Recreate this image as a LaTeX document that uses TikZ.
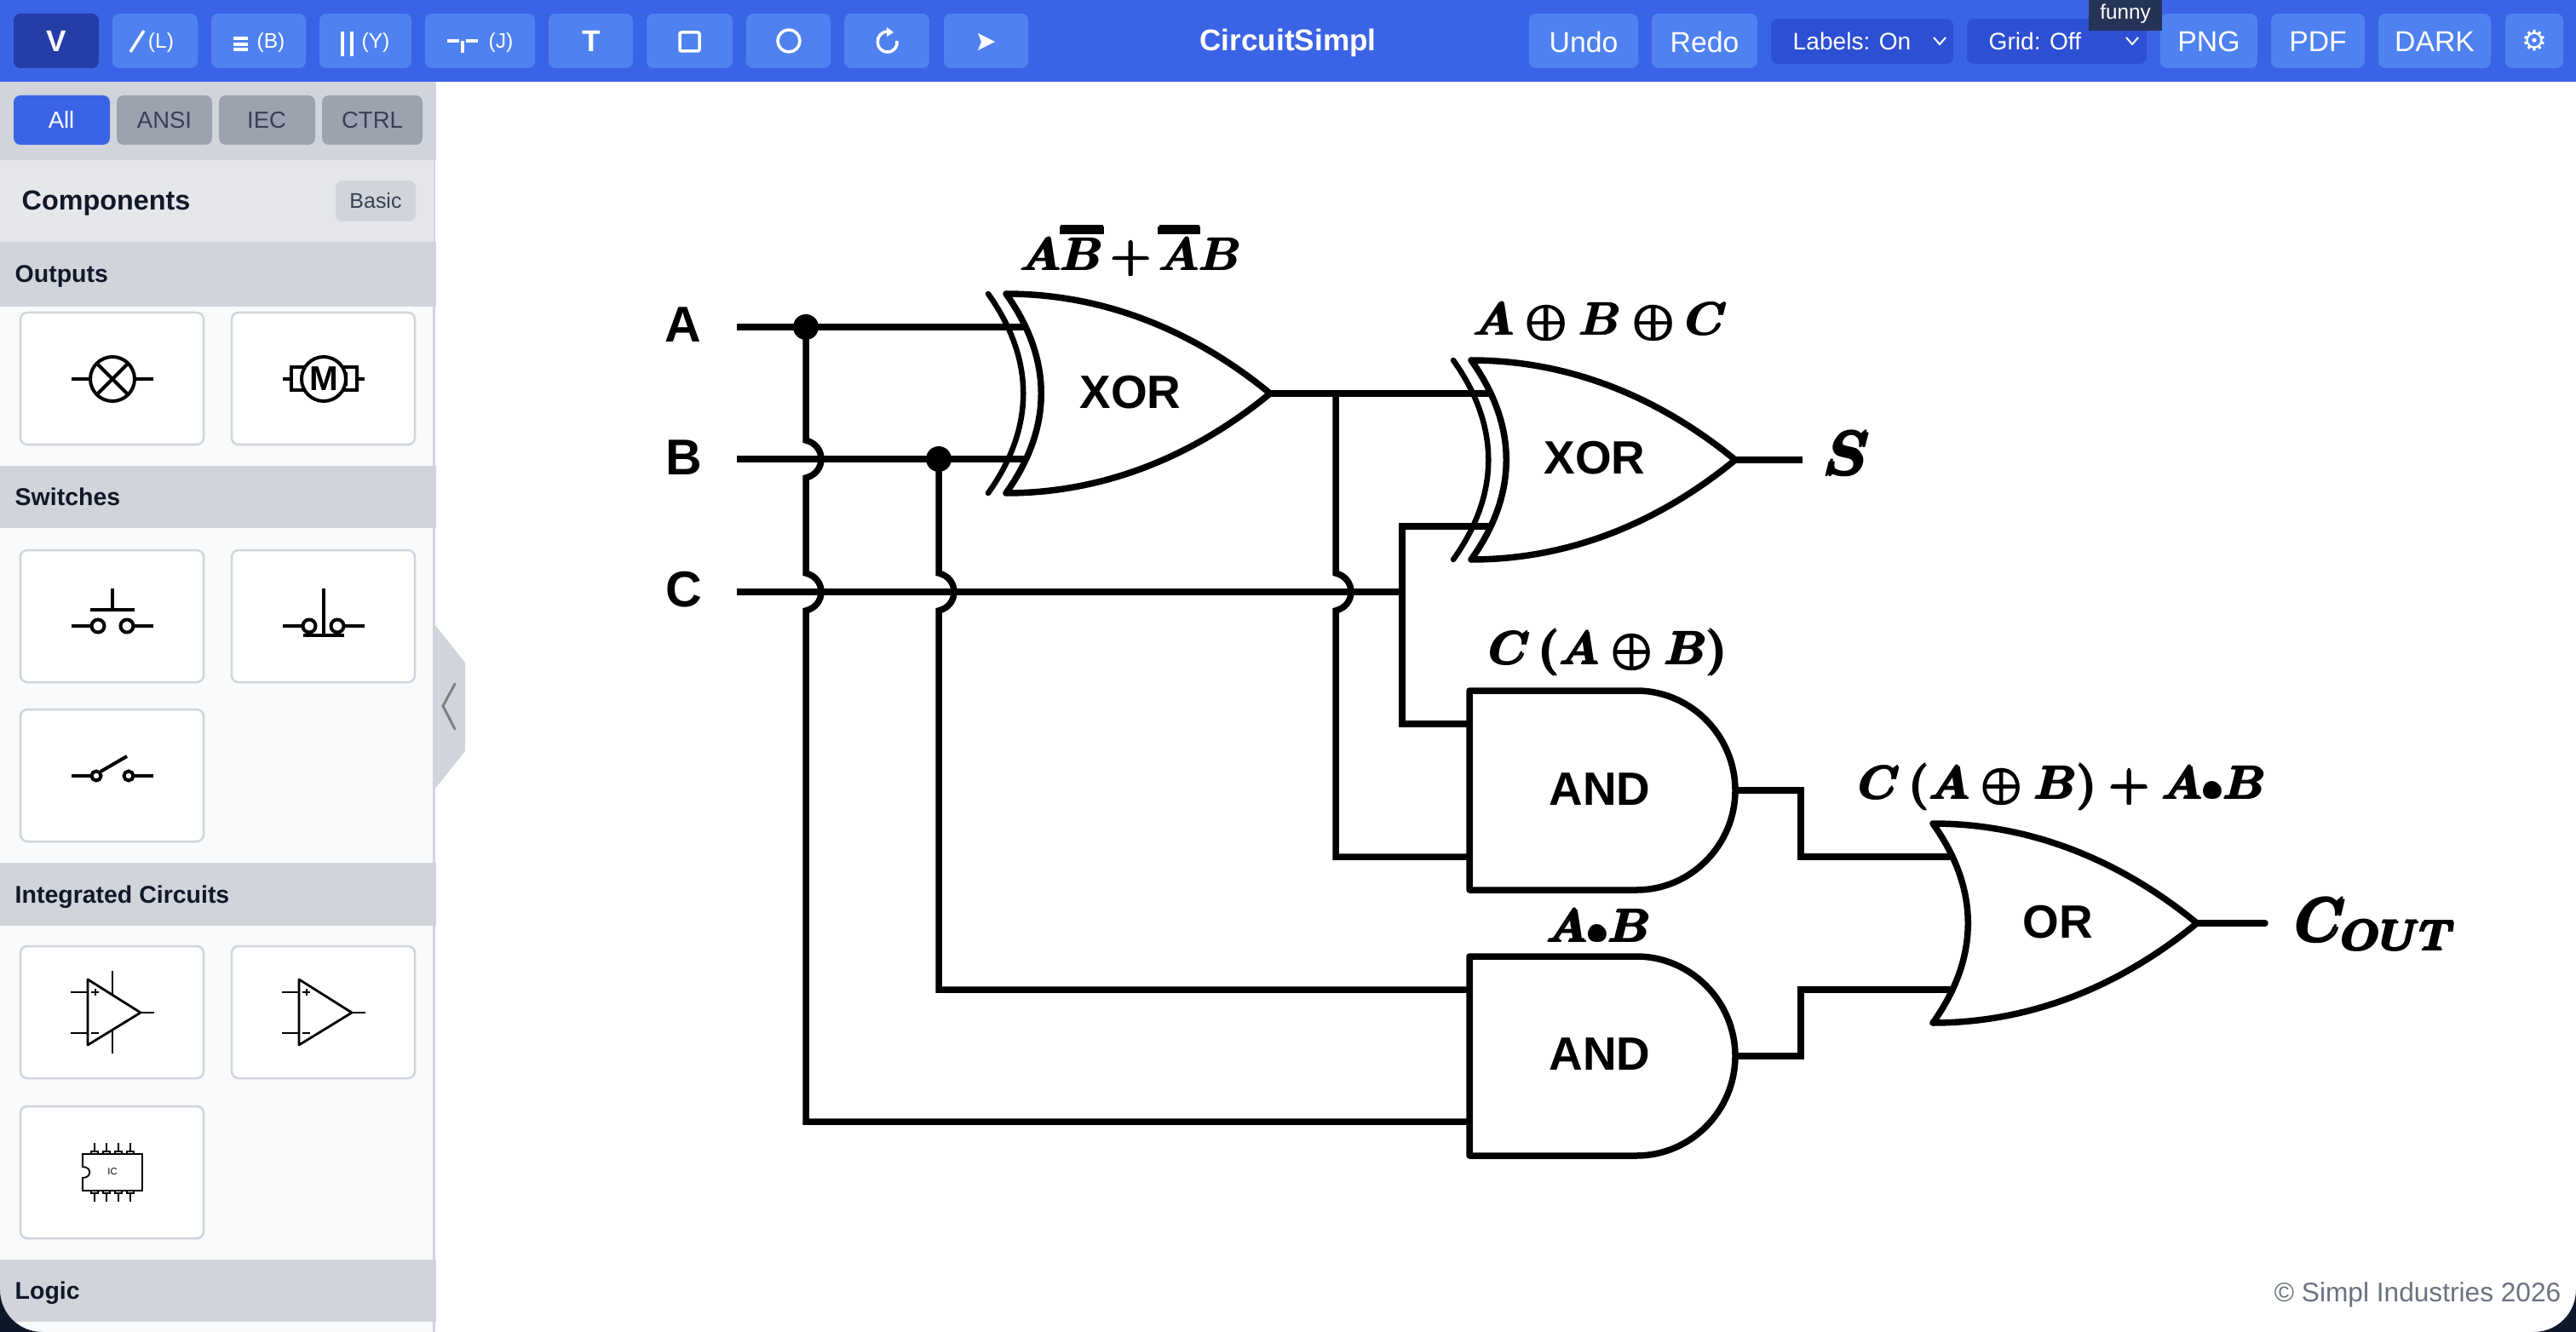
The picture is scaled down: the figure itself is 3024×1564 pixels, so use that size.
\documentclass[tikz,border=0pt]{standalone}
\usepackage{amsmath, amssymb}
\usepackage{fontspec}
\setmainfont{Liberation Sans}
\newfontfamily\symfont{DejaVu Sans}
\usetikzlibrary{calc}
\definecolor{barblue}{HTML}{3B63E5}
\definecolor{btnblue}{HTML}{4F82F0}
\definecolor{activeblue}{HTML}{253DA8}
\definecolor{selblue}{HTML}{2C4FD3}
\definecolor{tipnavy}{HTML}{253356}
\definecolor{lgrey}{HTML}{D1D5DB}
\definecolor{mgrey}{HTML}{9CA3AF}
\definecolor{pgrey}{HTML}{E5E7EB}
\definecolor{sidebg}{HTML}{F9FAFB}
\definecolor{dtext}{HTML}{111827}
\definecolor{gtext}{HTML}{374151}
\definecolor{ftext}{HTML}{6B7280}
\definecolor{deskdark}{HTML}{0F172A}
\newcommand{\thickbar}[1]{\mathord{\vbox{\hrule height 1.6pt \kern 1.1pt \hbox{$#1$}}}}
\tikzset{
  wire/.style={line width=.075cm, line join=miter},
  gateline/.style={line width=.075cm, line join=round, line cap=round},
  gatetext/.style={font=\bfseries\fontsize{15.6}{18}\selectfont},
  inlabel/.style={font=\bfseries\fontsize{16.8}{20}\selectfont},
  mathlabel/.style={font=\boldmath, scale=1.54, inner sep=0pt},
  bigmath/.style={font=\boldmath, inner sep=0pt},
  btntext/.style={text=white, font=\fontsize{9.6}{11}\selectfont, inner sep=0pt},
  smalltext/.style={text=white, font=\fontsize{7}{8}\selectfont, inner sep=0pt},
  toolicon/.style={white, line width=.035cm},
  tabtext/.style={font=\fontsize{7.8}{10}\selectfont, inner sep=0pt},
  headtext/.style={anchor=base west, text=dtext, font=\bfseries\fontsize{8.1}{10}\selectfont, inner sep=0pt},
  cardbox/.style={fill=white, draw=lgrey, line width=.025cm, rounded corners=.08cm},
  icon/.style={line width=.04cm},
  thinicon/.style={line width=.028cm},
  hop/.style={insert path={-- ($(#1)+(0,-22)$) .. controls ($(#1)+(24,-16)$) and ($(#1)+(24,16)$) .. ($(#1)+(0,22)$)}},
  orbody/.pic={
    \draw[gateline] (0,-117) .. controls (120,-117) and (225,-70) .. (310,0)
        .. controls (225,70) and (120,117) .. (0,117)
        .. controls (55,40) and (55,-40) .. cycle;
  },
  xorbody/.pic={
    \pic {orbody};
    \draw[gateline, line width=.065cm] (-21,-117) .. controls (34,-40) and (34,40) .. (-21,117);
  },
  andbody/.pic={
    \draw[gateline] (0,-117) -- (196,-117) .. controls (260,-117) and (312,-64) .. (312,0)
        .. controls (312,64) and (260,117) .. (196,117) -- (0,117) -- cycle;
  }
}
\begin{document}
\begin{tikzpicture}[x=.01cm, y=-.01cm]
        \useasboundingbox (0,0) rectangle (3024,1564);
        \fill[white] (0,0) rectangle (3024,1564);

        % toolbar
        \fill[barblue] (0,0) rectangle (3024,96);
        \fill[activeblue, rounded corners=.08cm] (16,16) rectangle (116,80);
        \foreach \xa/\xb in {132/232, 248/359, 375/483, 499/628, 644/743, 759/860, 876/975,
                             991/1091, 1108/1207, 1795/1923, 1939/2063, 2536/2650, 2666/2776,
                             2792/2924, 2941/3009}
          \fill[btnblue, rounded corners=.08cm] (\xa,16) rectangle (\xb,80);
        \foreach \xa/\xb in {2079/2293, 2309/2520}
          \fill[selblue, rounded corners=.08cm] (\xa,22) rectangle (\xb,75);

        \node[btntext, font=\bfseries\fontsize{10}{11}\selectfont] (toolV) at (66,48) {V};
        \draw[toolicon] (153,61) -- (169,36);
        \node[smalltext] (labL) at (189,50) {(L)};
        \draw[toolicon] (274,45) -- (291,45) (274,52) -- (291,52) (274,58) -- (291,58);
        \node[smalltext] (labB) at (318,50) {(B)};
        \draw[toolicon] (402,37) -- (402,66) (413,37) -- (413,66);
        \node[smalltext] (labY) at (441,50) {(Y)};
        \node[smalltext] (labJ) at (588,50) {(J)};
        \draw[toolicon] (525,48) -- (539,48) (547,48) -- (561,48) (543,48) -- (543,62);
        \node[btntext, font=\bfseries\fontsize{10}{11}\selectfont] (toolT) at (694,48) {T};
        \draw[toolicon, rounded corners=.02cm] (798,38) rectangle (821,60);
        \draw[toolicon] (926,48) circle[radius=13];
        \draw[toolicon] (1041,37) .. controls (1026,39) and (1027,61) .. (1042,61)
            .. controls (1050,61) and (1054,54) .. (1053,48);
        \fill[white] (1041,32) -- (1049,38) -- (1041,43) -- cycle;
        \fill[white] (1148,39) -- (1168,49) -- (1148,59) -- (1152,49) -- cycle;

        \node[btntext, anchor=base, font=\bfseries\fontsize{10}{12}\selectfont] (title) at (1512,60) {CircuitSimpl};
        \node[btntext] (undo) at (1859,49) {Undo};
        \node[btntext] (redo) at (2001,49) {Redo};
        \node[btntext, anchor=west, font=\fontsize{8}{10}\selectfont] (labels) at (2104,48) {Labels: On};
        \node[btntext, anchor=west, font=\fontsize{8}{10}\selectfont] (grid) at (2334,48) {Grid: Off};
        \foreach \x in {2277, 2503}
          \draw[white, line width=.02cm] (\x-7,44) -- (\x,52) -- (\x+7,44);
        \node[btntext] (png) at (2593,49) {PNG};
        \node[btntext] (pdf) at (2721,49) {PDF};
        \node[btntext] (dark) at (2858,49) {DARK};
        \node[btntext, font=\symfont\fontsize{9.5}{11}\selectfont] (gear) at (2975,48) {⚙};
        \fill[tipnavy] (2452,0) rectangle (2538,36);
        \node[smalltext, font=\fontsize{6.9}{8}\selectfont] (funny) at (2495,16) {funny};

        % sidebar
        \fill[sidebg] (0,96) rectangle (509,1564);
        \fill[lgrey] (508,96) rectangle (511,1564);
        \fill[lgrey] (0,96) rectangle (512,188);
        \fill[pgrey] (0,188) rectangle (509,284);
        \fill[lgrey] (510,733) -- (546,778) -- (546,882) -- (510,927) -- cycle;
        \draw[gray, line width=.03cm, line cap=round] (534,803) -- (520,829) -- (534,856);

        \fill[barblue, rounded corners=.08cm] (16,112) rectangle (129,170);
        \foreach \xa/\xb in {137/249, 257/370, 378/496}
          \fill[mgrey, rounded corners=.08cm] (\xa,112) rectangle (\xb,170);
        \node[tabtext, text=white] (tabAll) at (72,141) {All};
        \node[tabtext, text=gtext] (tabAnsi) at (193,141) {ANSI};
        \node[tabtext, text=gtext] (tabIec) at (313,141) {IEC};
        \node[tabtext, text=gtext] (tabCtrl) at (437,141) {CTRL};

        \node[headtext, font=\bfseries\fontsize{9.2}{11}\selectfont] (comps) at (25,247) {Components};
        \fill[lgrey, rounded corners=.08cm] (394,212) rectangle (488,260);
        \node[tabtext, text=gtext, font=\fontsize{7.1}{8}\selectfont] (basic) at (441,236) {Basic};

        \foreach \ya/\yb/\nm/\txt in {284/360/outs/Outputs, 547/620/sws/Switches,
                                      1013/1087/ics/Integrated Circuits, 1479/1552/logic/Logic} {
          \fill[lgrey] (0,\ya) rectangle (512,\yb);
          \node[headtext] (\nm) at (17,{(\ya+\yb)/2+10}) {\txt};
        }

        \foreach \xa/\ya in {24/367, 272/367, 24/646, 272/646, 24/833, 24/1111, 272/1111, 24/1299}
          \draw[cardbox] (\xa,\ya) rectangle ++(215,155);

        % lamp
        \draw[icon] (84,445) -- (106,445) (158,445) -- (180,445);
        \draw[icon] (132,445) circle[radius=26];
        \draw[icon] (113.6,426.6) -- (150.4,463.4) (150.4,426.6) -- (113.6,463.4);
        % motor
        \draw[icon] (332,445) -- (342,445) (419,445) -- (428,445);
        \draw[icon] (342,431) rectangle (419,458);
        \draw[icon] (355,437) -- (355,453) (406,437) -- (406,453);
        \draw[icon, fill=white] (380,445) circle[radius=26];
        \node[inner sep=0pt, font=\bfseries\fontsize{11.5}{13}\selectfont] (motorM) at (380,445) {M};
        % push to make
        \draw[icon] (84,735) -- (107,735) (157,735) -- (180,735);
        \draw[icon] (115,735) circle[radius=7.5] (149,735) circle[radius=7.5];
        \draw[icon] (106,716) -- (158,716) (132,716) -- (132,691);
        % push to break
        \draw[icon] (332,735) -- (355,735) (405,735) -- (428,735);
        \draw[icon] (363,735) circle[radius=7.5] (396,735) circle[radius=7.5];
        \draw[icon] (380,691) -- (380,746) (356,746) -- (404,746);
        % switch
        \draw[icon] (84,911) -- (107,911) (157,911) -- (180,911);
        \draw[icon] (113,911) circle[radius=5.5] (151,911) circle[radius=5.5];
        \draw[icon] (118,906) -- (149,888);
        % op amps
        \foreach \dx in {0, 248} {
          \draw[thinicon, line join=round] (103+\dx,1150) -- (165+\dx,1189) -- (103+\dx,1227) -- cycle;
          \draw[thinicon] (83+\dx,1165) -- (103+\dx,1165) (83+\dx,1213) -- (103+\dx,1213) (165+\dx,1189) -- (181+\dx,1189);
          \draw[thinicon, line width=.02cm] (107+\dx,1165) -- (116+\dx,1165) (111.5+\dx,1161) -- (111.5+\dx,1169)
              (107+\dx,1213) -- (116+\dx,1213);
        }
        \draw[thinicon] (132,1140) -- (132,1168) (132,1210) -- (132,1237);
        % ic
        \draw[line width=.018cm] (97,1355) -- (167,1355) -- (167,1398) -- (97,1398) -- (97,1383)
            .. controls (108,1383) and (108,1370) .. (97,1370) -- cycle;
        \foreach \x in {111, 125, 139, 153} {
          \draw[line width=.014cm] (\x-4,1352) rectangle (\x+4,1355) (\x,1352) -- (\x,1342);
          \draw[line width=.014cm] (\x-4,1398) rectangle (\x+4,1401) (\x,1401) -- (\x,1411);
        }
        \node[inner sep=0pt, font=\fontsize{3.2}{4}\selectfont] (iclab) at (132,1376) {IC};

        % gates
        \pic at (1181,462) {xorbody};
        \pic at (1727,540) {xorbody};
        \pic at (1725,928) {andbody};
        \pic at (1725,1240) {andbody};
        \pic at (2269,1084) {orbody};

        \node[gatetext] (xor1) at (1327,461) {XOR};
        \node[gatetext] (xor2) at (1872,538) {XOR};
        \node[gatetext] (and1) at (1878,927) {AND};
        \node[gatetext] (and2) at (1878,1238) {AND};
        \node[gatetext] (or1) at (2416,1083) {OR};

        % ports
        \coordinate (inA) at (865,384);
        \coordinate (inB) at (865,539);
        \coordinate (inC) at (865,695);
        \coordinate (jA) at (946,384);
        \coordinate (jB) at (1102,539);
        \coordinate (hAB) at (946,539);
        \coordinate (hAC) at (946,695);
        \coordinate (hBC) at (1102,695);
        \coordinate (hSC) at (1568,695);
        \coordinate (xor1a) at (1205,384);
        \coordinate (xor1b) at (1205,539);
        \coordinate (xor1o) at (1490,462);
        \coordinate (jS) at (1568,462);
        \coordinate (jC) at (1646,695);
        \coordinate (xor2a) at (1751,462);
        \coordinate (xor2b) at (1751,618);
        \coordinate (xor2o) at (2036,540);
        \coordinate (outS) at (2116,540);
        \coordinate (and1a) at (1725,850);
        \coordinate (and1b) at (1725,1006);
        \coordinate (and1o) at (2037,928);
        \coordinate (and2a) at (1725,1162);
        \coordinate (and2b) at (1725,1317);
        \coordinate (and2o) at (2037,1240);
        \coordinate (ora) at (2295,1006);
        \coordinate (orb) at (2295,1162);
        \coordinate (oro) at (2579,1084);
        \coordinate (outC) at (2659,1084);
        \coordinate (benda) at (2114,1006);
        \coordinate (bendb) at (2114,1162);

        % wires
        \draw[wire] (inA) -- (xor1a);
        \draw[wire] (inB) -- (xor1b);
        \draw[wire] (inC) -- (jC);
        \draw[wire] (xor1o) -- (xor2a);
        \draw[wire] (xor2o) -- (outS);
        \draw[wire] (jA) [hop=hAB] [hop=hAC] |- (and2b);
        \draw[wire] (jB) [hop=hBC] |- (and2a);
        \draw[wire] (jS) [hop=hSC] |- (and1b);
        \draw[wire] (xor2b) -| (jC) |- (and1a);
        \draw[wire] (and1o) -| (benda) -- (ora);
        \draw[wire] (and2o) -| (bendb) -- (orb);
        \draw[gateline] (oro) -- (outC);
        \foreach \j in {jA, jB}
          \fill (\j) circle[radius=15];

        % labels
        \node[inlabel, inner sep=0pt] (labA) at (802,381) {A};
        \node[inlabel, inner sep=0pt] (labB) at (803,537) {B};
        \node[inlabel, inner sep=0pt] (labC) at (803,692) {C};
        \node[mathlabel, anchor=base] (e1) at (1329,318) {$\pmb{A\thickbar{B}\mkern-1.5mu+\mkern-1.5mu\thickbar{A}B}$};
        \node[mathlabel, anchor=base] (e2) at (1880,394) {$\pmb{A\oplus B\oplus C}$};
        \node[mathlabel, anchor=base] (e3) at (1889,780) {$\pmb{C\,(A\oplus B)}$};
        \node[mathlabel, anchor=base] (e4) at (2422,938) {$\pmb{C\,(A\oplus B)+A{\scriptstyle\bullet}B}$};
        \node[mathlabel, anchor=base] (e5) at (1878,1106) {$\pmb{A{\scriptstyle\bullet}B}$};
        \node[bigmath, scale=2.05, anchor=base] (sum) at (2169,558) {$\pmb{S}$};
        \node[bigmath, xscale=1.88, yscale=2.05, anchor=base west] (cout) at (2695,1106) {$\pmb{C_{OUT}}$};

        \node[anchor=east, inner sep=0pt, text=ftext, font=\fontsize{9}{10}\selectfont] (footer) at (3007,1520) {© Simpl Industries 2026};

        % window corners
        \fill[deskdark] (0,1514) -- (0,1564) -- (50,1564) .. controls (22,1564) and (0,1542) .. (0,1514) -- cycle;
        \fill[deskdark] (3024,1514) -- (3024,1564) -- (2974,1564) .. controls (3002,1564) and (3024,1542) .. (3024,1514) -- cycle;
      \end{tikzpicture}
\end{document}
